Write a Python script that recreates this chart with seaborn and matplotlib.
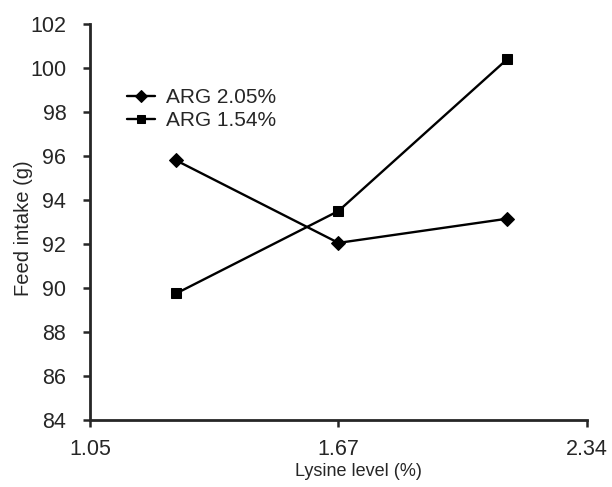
import numpy as np
import pandas as pd
import matplotlib
matplotlib.use('Agg')
import matplotlib.pyplot as plt
import seaborn as sns

# Data
lysine = [1.265, 1.67, 2.125]
arg_205 = [95.8, 92.05, 93.15]
arg_154 = [89.75, 93.5, 100.4]
series_names = ['ARG 2.05%', 'ARG 1.54%']
x_ticks = [1.05, 1.67, 2.34]
y_ticks = list(range(84, 103, 2))

df = pd.DataFrame({
    'lysine': lysine * 2,
    'intake': arg_205 + arg_154,
    'group': [series_names[0]] * 3 + [series_names[1]] * 3,
})

sns.set_style('ticks')
plt.rcParams['font.family'] = ['Liberation Sans', 'DejaVu Sans']

fig = plt.figure(figsize=(6.12, 4.87), dpi=100)
ax = fig.add_axes([0.147, 0.1376, 0.812, 0.8131])

# ticks on the x axis are evenly spaced in the original -> piecewise scale
pos = [0, 1, 2]
ax.set_xscale('function', functions=(lambda v: np.interp(v, x_ticks, pos),
                                      lambda v: np.interp(v, pos, x_ticks)))

sns.lineplot(data=df, x='lysine', y='intake', hue='group', style='group',
             palette=['black', 'black'], markers={'ARG 2.05%': 'D', 'ARG 1.54%': 's'},
             dashes=False, linewidth=1.7, markersize=7.5, markeredgecolor='black',
             ax=ax)

ax.set_xlim(1.05, 2.34)
ax.set_ylim(84, 102)
ax.set_xticks(x_ticks)
ax.set_xticklabels(['1.05', '1.67', '2.34'])
ax.set_yticks(y_ticks)
ax.minorticks_off()
ax.tick_params(axis='both', labelsize=15.5, width=1.8, length=5, direction='out')
ax.tick_params(axis='x', pad=9)
ax.tick_params(axis='y', pad=12)
for s in ['left', 'bottom']:
    ax.spines[s].set_linewidth(2)
sns.despine(ax=ax)

ax.set_xlabel('Lysine level (%)', fontsize=13)
ax.set_ylabel('Feed intake (g)', fontsize=14.5)
ax.xaxis.set_label_coords(0.541, -0.108)
ax.yaxis.set_label_coords(-0.115, 0.485)

ax.legend(loc='upper left', bbox_to_anchor=(0.058, 0.859), frameon=False,
          fontsize=15, handlelength=1.35, handletextpad=0.5, labelspacing=0.2,
          markerscale=0.8, borderaxespad=0)

fig.savefig('out.png', dpi=100)
